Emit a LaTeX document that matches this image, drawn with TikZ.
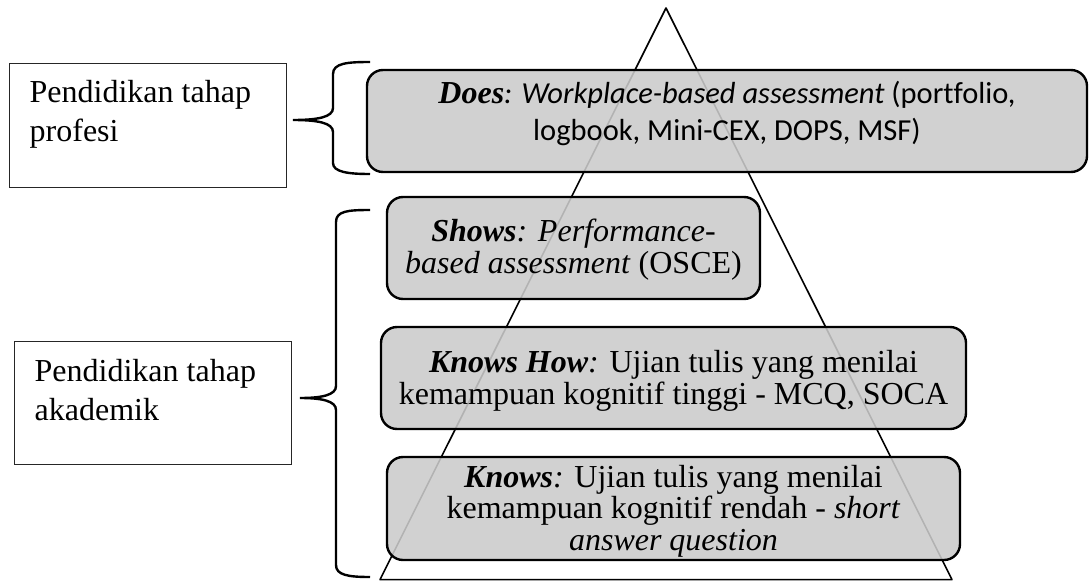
\documentclass[tikz,border=0pt]{standalone}
\usepackage{fontspec}
\setmainfont{Liberation Serif}
\newfontfamily\timesfont{Liberation Serif}
\newfontfamily\calibrifont[Ligatures=NoCommon]{Carlito}
\begin{document}
\begin{tikzpicture}[x=1pt,y=-1pt,
  pbox/.style={draw=black, line width=2.4pt, rounded corners=16pt,
    fill={rgb,255:red,203;green,203;blue,203}, fill opacity=0.88, text opacity=1,
    inner sep=0pt},
  lbox/.style={draw=black!85, line width=1pt, inner sep=0pt},
  ptext/.style={inner sep=0pt, align=center, font=\fontsize{32}{31.5}\selectfont},
  ltext/.style={inner sep=0pt, align=left, anchor=north west, font=\fontsize{32}{39}\selectfont},
  bracepath/.style={draw=black, line width=2.4pt}]
\useasboundingbox (0,0) rectangle (1090,581);
% pyramid
\coordinate (apex) at (666,8);
\coordinate (bl) at (380,579.6);
\coordinate (br) at (952,579.6);
\draw[line width=1.6pt, line join=round] (apex) -- (br) -- (bl) -- cycle;
% boxes
\node[pbox, minimum width=720pt, minimum height=102pt] (does) at (727,121) {};
\node[pbox, minimum width=373pt, minimum height=102pt] (shows) at (573.5,248) {};
\node[pbox, minimum width=585pt, minimum height=102pt] (knowshow) at (673.5,378) {};
\node[pbox, minimum width=573pt, minimum height=103pt] (knows) at (673.5,508.5) {};
% texts
\node[inner sep=0pt, align=center, font=\calibrifont\fontsize{30.5}{37}\selectfont] (doestext) at ([yshift=7.5pt]does.center)
  {{\timesfont\bfseries\itshape\fontsize{32}{37}\selectfont Does}{\itshape: Workplace-based assessment} (portfolio,\\
   logbook, Mini-CEX, DOPS, MSF)};
\node[ptext] (showstext) at ([yshift=-1.5pt]shows.center)
  {{\bfseries\itshape Shows}\textit{: Performance-}\\ \textit{based assessment} (OSCE)};
\node[ptext] (knowshowtext) at ([yshift=-3pt]knowshow.center)
  {{\bfseries\itshape Knows How}\textit{:} Ujian tulis yang menilai\\ kemampuan kognitif tinggi - MCQ, SOCA};
\node[ptext] (knowstext) at ([yshift=-2.5pt]knows.center)
  {{\bfseries\itshape Knows}\textit{:} Ujian tulis yang menilai\\ kemampuan kognitif rendah - \textit{short}\\ \textit{answer question}};
% left boxes
\node[lbox, minimum width=277pt, minimum height=124pt] (profesi) at (147.5,125) {};
\node[lbox, minimum width=277pt, minimum height=123pt] (akademik) at (152.5,402.5) {};
\node[ltext] (profesitext) at ([xshift=21pt,yshift=-18pt]profesi.north west) {Pendidikan tahap\\profesi};
\node[ltext] (akademiktext) at ([xshift=21pt,yshift=-19pt]akademik.north west) {Pendidikan tahap\\akademik};
% braces
\draw[bracepath] (370,62) .. controls (348,62) and (333,63) .. (333,74) -- (333,108)
  .. controls (333,117) and (318,120) .. (293,120)
  .. controls (318,120) and (333,123) .. (333,132) -- (333,163)
  .. controls (333,172) and (348,174) .. (370,174);
\draw[bracepath] (370,210) .. controls (348,210) and (336,211) .. (336,222) -- (336,386)
  .. controls (336,395) and (322,398) .. (300,398)
  .. controls (322,398) and (336,401) .. (336,410) -- (336,565)
  .. controls (336,575) and (348,577) .. (370,577);
\end{tikzpicture}
\end{document}
